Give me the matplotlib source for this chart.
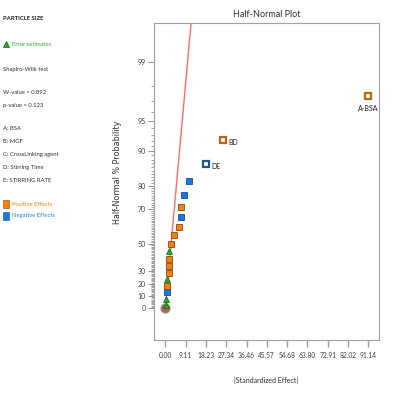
import numpy as np
import matplotlib
matplotlib.use("Agg")
import matplotlib.pyplot as plt
from statistics import NormalDist

# данные: |эффект| по рангу и тип точки
effects = [0.1, 0.25, 0.6, 0.85, 0.9, 1.6, 1.7, 1.75, 1.8, 2.7, 3.8, 6.3, 7.0, 7.2, 8.5, 10.8, 18.3, 25.9, 91.138]
kinds = ['err', 'err', 'neg', 'pos', 'err', 'pos', 'pos', 'pos', 'err', 'pos', 'pos', 'pos',
         'neg', 'pos', 'neg', 'neg', 'neg', 'pos', 'pos']
labels = {16: 'DE', 17: 'BD', 18: 'A-BSA'}
major_pct = [0, 10, 20, 30, 50, 70, 80, 90, 95, 99]
x_max = 91.138
line_slope = 3.88

factors = ['A: BSA', 'B: MGF', 'C: CrossLinking agent', 'D: Stirring Time', 'E: STIRRING RATE']

nd = NormalDist()


def hn(p):
    """процент -> квантиль полунормального распределения"""
    return nd.inv_cdf(0.5 + p / 200.0)


n = len(effects)
z = [hn(100.0 * (i + 0.5) / n) for i in range(n)]

plt.rcParams['font.family'] = ['Lato', 'DejaVu Sans']
fig = plt.figure(figsize=(3.99, 3.94), dpi=100)
ax = fig.add_axes([154 / 399, 1 - 340 / 394, 225 / 399, 317 / 394])

ax.set_xlim(-5.07, 95.9)
ax.set_ylim(-0.335, 2.984)

# линия
zz = np.array([0, 2.984])
ax.plot(zz * line_slope, zz, color='#ff6b6b', lw=1.0, zorder=2)

# точка в нуле
ax.plot([0], [0], 'o', ms=6.5, mfc='#c05a5a', mec='#909090', mew=0.8, zorder=3)

face = {'pos': '#ff8000', 'neg': '#0a7cf0', 'err': '#14b814'}
edge = {'pos': '#7a4a20', 'neg': '#234a80', 'err': '#1a5a1a'}
hollow_edge = {'pos': '#b8651a', 'neg': '#1f5590'}

for i in range(n):
    k = kinds[i]
    if i in labels:
        ax.plot(effects[i], z[i], 's', ms=4.8, mfc='white', mec=hollow_edge[k], mew=1.6, zorder=4)
    elif k == 'err':
        ax.plot(effects[i], z[i], '^', ms=5, mfc=face[k], mec=edge[k], mew=0.5, zorder=4)
    else:
        ax.plot(effects[i], z[i], 's', ms=5, mfc=face[k], mec=edge[k], mew=0.6, zorder=4)

ax.annotate('A-BSA', (effects[18], z[18]), xytext=(0, -9), textcoords='offset points',
            ha='center', va='center', fontsize=5, color='#202020')
ax.annotate('BD', (effects[17], z[17]), xytext=(4, -2), textcoords='offset points',
            ha='left', va='center', fontsize=5, color='#202020')
ax.annotate('DE', (effects[16], z[16]), xytext=(4, -2), textcoords='offset points',
            ha='left', va='center', fontsize=5, color='#202020')

# оси
ax.set_yticks([hn(p) for p in major_pct])
ax.set_yticklabels([str(p) for p in major_pct])
minor = [p for p in range(0, 99) if p not in major_pct]
ax.set_yticks([hn(p) for p in minor], minor=True)
ax.set_xticks(np.linspace(0, x_max, 11))
ax.set_xticklabels(['%.2f' % v for v in np.linspace(0, x_max, 11)])

ax.tick_params(axis='y', which='major', length=4, width=0.6, color='#808080',
               labelsize=5, labelcolor='#404040', pad=2)
ax.tick_params(axis='y', which='minor', length=2.2, width=0.5, color='#808080')
ax.tick_params(axis='x', length=5, width=1.0, color='#a0a0a0',
               labelsize=4.8, labelcolor='#404040', pad=3.5)
for s in ax.spines.values():
    s.set_color('#a0a0a0')
    s.set_linewidth(0.8)

ax.set_title('Half-Normal Plot', fontsize=6.5, color='#303030', pad=4)
ax.set_xlabel('|Standardized Effect|', fontsize=5, color='#303030', labelpad=13)
fig.text(118 / 399, 1 - 172 / 394, 'Half-Normal % Probability', rotation=90,
         ha='center', va='center', fontsize=5.8, color='#303030', family='DejaVu Sans')

# левая панель
fs = 4.2
fig.text(3 / 399, 1 - 19 / 394, 'PARTICLE SIZE', fontsize=fs, weight='bold', color='#202020', va='center')
fig.lines.append(plt.Line2D([6 / 399], [1 - 44 / 394], marker='^', ms=5, mfc='#14b814', mec='#1a5a1a',
                            mew=0.5, transform=fig.transFigure))
fig.text(12 / 399, 1 - 44 / 394, 'Error estimates', fontsize=fs, color='#22bb22', va='center')
fig.text(3 / 399, 1 - 70 / 394, 'Shapiro-Wilk test', fontsize=fs, color='#303030', va='center')
fig.text(3 / 399, 1 - 93 / 394, 'W-value = 0.892', fontsize=fs, color='#303030', va='center')
fig.text(3 / 399, 1 - 106 / 394, 'p-value = 0.123', fontsize=fs, color='#303030', va='center')
for j, f in enumerate(factors):
    fig.text(3 / 399, 1 - (129 + 12.8 * j) / 394, f, fontsize=fs, color='#303030', va='center')
fig.patches.append(plt.Rectangle((3 / 399, 1 - 208 / 394), 6 / 399, 8 / 394, fc='#ff8000',
                                 ec='#7a4a20', lw=0.4, transform=fig.transFigure))
fig.text(12 / 399, 1 - 204 / 394, 'Positive Effects', fontsize=fs, color='#ff8000', va='center')
fig.patches.append(plt.Rectangle((3 / 399, 1 - 220 / 394), 6 / 399, 8 / 394, fc='#0a7cf0',
                                 ec='#234a80', lw=0.4, transform=fig.transFigure))
fig.text(12 / 399, 1 - 216 / 394, 'Negative Effects', fontsize=fs, color='#1e7ff0', va='center')

fig.savefig('out.png', dpi=100)
